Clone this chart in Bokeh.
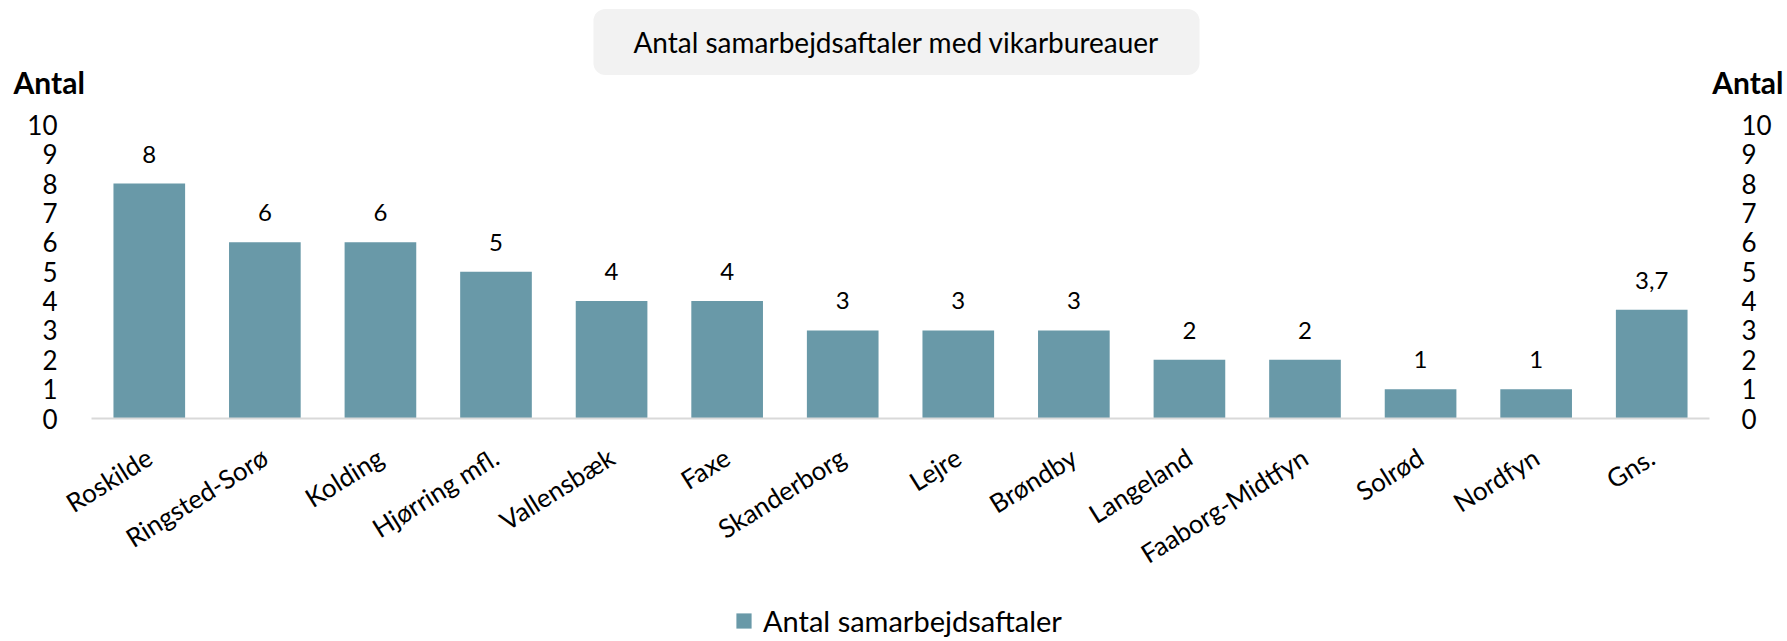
import math
from bokeh.plotting import figure
from bokeh.models import (ColumnDataSource, Range1d, LinearAxis, FixedTicker,
                          LabelSet, Label, Legend, LegendItem)
from bokeh.core.properties import value
from bokeh.embed import file_html
from bokeh.resources import INLINE

# ---- data ----
categories = ["Roskilde", "Ringsted-Sorø", "Kolding", "Hjørring mfl.", "Vallensbæk", "Faxe",
              "Skanderborg", "Lejre", "Brøndby", "Langeland", "Faaborg-Midtfyn", "Solrød",
              "Nordfyn", "Gns."]
values = [8, 6, 6, 5, 4, 4, 3, 3, 3, 2, 2, 1, 1, 3.7]
value_labels = ["8", "6", "6", "5", "4", "4", "3", "3", "3", "2", "2", "1", "1", "3,7"]
y_ticks = [0, 1, 2, 3, 4, 5, 6, 7, 8, 9, 10]
title_text = "Antal samarbejdsaftaler med vikarbureauer"
axis_title = "Antal"
series_name = "Antal samarbejdsaftaler"

FONT = "Lato"
BAR = "#6999a8"

W, H = 1787, 641
# pixel targets for the plotting area
PL, PR, P0, P10 = 91, 1709, 418, 124.25

n = len(categories)
idx = list(range(n))
step = (PR - PL) / n
x_start = -0.5 - PL / step
x_end = -0.5 + (W - PL) / step
k = (P0 - P10) / 10.0
y_start = -(H - P0) / k
y_end = P0 / k

src = ColumnDataSource(dict(x=idx, val=values, lab=value_labels))

p = figure(width=W, height=H, x_range=Range1d(x_start, x_end), y_range=Range1d(y_start, y_end),
           output_backend="svg", toolbar_location=None, title=None,
           min_border=0, outline_line_color=None)
p.background_fill_color = "white"
p.border_fill_color = "white"
p.xgrid.grid_line_color = None
p.ygrid.grid_line_color = None

r = p.vbar(x="x", top="val", width=0.62, source=src, fill_color=BAR, line_color=None)

# x axis (at y = 0)
xa = p.xaxis[0]
xa.fixed_location = 0
xa.bounds = (-0.5, n - 0.5)
xa.ticker = FixedTicker(ticks=idx)
xa.major_label_overrides = {i: c for i, c in zip(idx, categories)}
xa.axis_line_color = "#d9d9d9"
xa.axis_line_width = 2
xa.major_tick_line_color = None
xa.minor_tick_line_color = None
xa.major_label_orientation = math.radians(32)
xa.major_label_text_font = FONT
xa.major_label_text_font_size = "26px"
xa.major_label_text_color = "black"
xa.major_label_standoff = 30

# left y axis
ya = p.yaxis[0]
ya.fixed_location = -0.5
ya.bounds = (0, 10)
ya.ticker = FixedTicker(ticks=y_ticks)
ya.axis_line_color = None
ya.major_tick_line_color = None
ya.minor_tick_line_color = None
ya.major_label_text_font = FONT
ya.major_label_text_font_size = "26px"
ya.major_label_text_color = "black"
ya.major_label_standoff = 28

# right y axis
ra = LinearAxis(ticker=FixedTicker(ticks=y_ticks), fixed_location=n - 0.5, bounds=(0, 10))
ra.axis_line_color = None
ra.major_tick_line_color = None
ra.minor_tick_line_color = None
ra.major_label_text_font = FONT
ra.major_label_text_font_size = "26px"
ra.major_label_text_color = "black"
ra.major_label_standoff = 26
p.add_layout(ra, "right")

# data labels
labels = LabelSet(x="x", y="val", text="lab", source=src, y_offset=21,
                  text_align="center", text_baseline="alphabetic",
                  text_font=value(FONT), text_font_size="24px", text_color="black")
p.add_layout(labels)

# title box
tl = Label(x=896, y=H - 41.5, x_units="screen", y_units="screen", text=title_text,
           text_align="center", text_baseline="middle", text_font=FONT,
           text_font_size="28px", text_color="black",
           background_fill_color="#f2f2f2", border_radius=12,
           padding=dict(left=40, right=40, top=16, bottom=16))
p.add_layout(tl)

# axis titles
p.add_layout(Label(x=13, y=H - 81, x_units="screen", y_units="screen", text=axis_title,
                   text_align="left", text_baseline="middle", text_font=FONT,
                   text_font_size="30px", text_font_style="bold", text_color="black"))
p.add_layout(Label(x=1783, y=H - 81, x_units="screen", y_units="screen", text=axis_title,
                   text_align="right", text_baseline="middle", text_font=FONT,
                   text_font_size="30px", text_font_style="bold", text_color="black"))

# legend
leg = Legend(items=[LegendItem(label=series_name, renderers=[r])],
             location=(734, H - 638), orientation="horizontal",
             padding=0, margin=0, border_line_color=None, background_fill_alpha=0,
             glyph_width=19, glyph_height=19, label_standoff=10,
             label_text_font=FONT, label_text_font_size="29px", label_text_color="black")
p.add_layout(leg)

open("out.html", "w").write(file_html(p, INLINE))
